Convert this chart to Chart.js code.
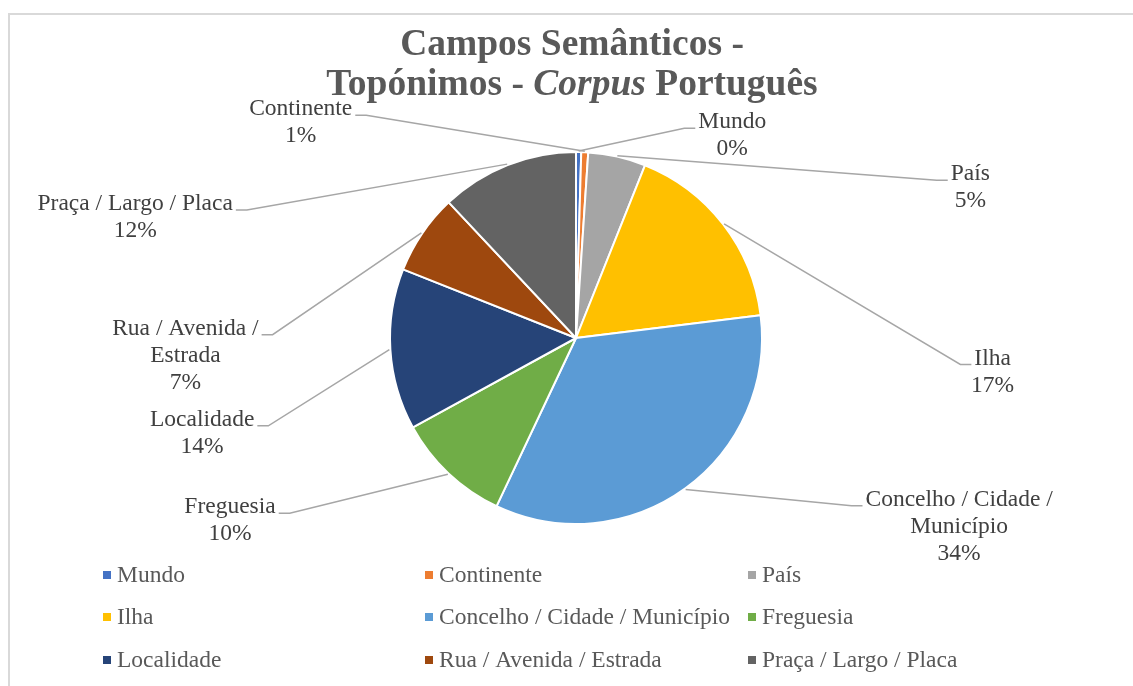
<!DOCTYPE html>
<html>
<head>
<meta charset="utf-8">
<script src="https://cdn.jsdelivr.net/npm/chart.js@4/dist/chart.umd.min.js"></script>
<style>
  html, body { margin: 0; padding: 0; background: #fff; }
  #wrap { position: relative; width: 1133px; height: 686px; }
  #frame { position: absolute; left: 8px; top: 13px; right: -4px; bottom: -4px; border: 2px solid #d9d9d9; }
  canvas { position: absolute; left: 0; top: 0; }
</style>
</head>
<body>
<div id="wrap">
  <div id="frame"></div>
  <canvas id="chart" width="1133" height="686"></canvas>
</div>
<script>
const categorias = ['Mundo', 'Continente', 'País', 'Ilha', 'Concelho / Cidade / Município', 'Freguesia', 'Localidade', 'Rua / Avenida / Estrada', 'Praça / Largo / Placa'];
const percentagens = [0.45, 0.6, 5, 17, 34, 10, 14, 7, 12];
const cores = ['#4472C4', '#ED7D31', '#A5A5A5', '#FFC000', '#5B9BD5', '#70AD47', '#264478', '#9E480E', '#636363'];
// rotulos (linhas de texto de cada etiqueta)
const rotulos = [
    ['Mundo'], ['Continente'], ['País'], ['Ilha'],
    ['Concelho / Cidade /', 'Município'], ['Freguesia'], ['Localidade'],
    ['Rua / Avenida /', 'Estrada'], ['Praça / Largo / Placa']
];

// posição das etiquetas em unidades do raio, relativas ao centro (como no Excel)
const posEtiquetas = [
    [0.84, -1.16], [-1.48, -1.23], [2.12, -0.88], [2.24, 0.11],
    [2.06, 0.87], [-1.86, 0.91], [-2.01, 0.44], [-2.10, -0.05], [-2.37, -0.72]
];

const FONTE = "'Liberation Serif', 'Times New Roman', serif";

const etiquetasPlugin = {
    id: 'etiquetas',
    afterDatasetsDraw(chart) {
        const ctx = chart.ctx;
        const meta = chart.getDatasetMeta(0);
        const arc0 = meta.data[0];
        const cx = arc0.x, cy = arc0.y, r = arc0.outerRadius;
        ctx.save();
        ctx.font = '23.5px ' + FONTE;
        ctx.textAlign = 'center';
        ctx.textBaseline = 'middle';
        meta.data.forEach((arc, i) => {
            const linhas = rotulos[i].concat([Math.round(percentagens[i]) + '%']);
            const lx = cx + posEtiquetas[i][0] * r;
            const ly = cy + posEtiquetas[i][1] * r;
            const lh = 27;
            const larg = Math.max(...rotulos[i].map(t => ctx.measureText(t).width));
            const mid = (arc.startAngle + arc.endAngle) / 2;
            const sx = cx + Math.cos(mid) * (r + 1);
            const sy = cy + Math.sin(mid) * (r + 1);
            const direita = lx > cx;
            const ey = ly + 6;
            const ex = direita ? lx - larg / 2 - 3 : lx + larg / 2 + 3;
            const kx = direita ? ex - 11 : ex + 11;
            ctx.strokeStyle = '#a6a6a6';
            ctx.lineWidth = 1.5;
            ctx.beginPath();
            ctx.moveTo(sx, sy);
            ctx.lineTo(kx, ey);
            ctx.lineTo(ex, ey);
            ctx.stroke();
            ctx.fillStyle = '#404040';
            linhas.forEach((t, j) => ctx.fillText(t, lx, ly + j * lh));
        });
        ctx.restore();
    }
};

const tituloLegendaPlugin = {
    id: 'tituloLegenda',
    afterDraw(chart) {
        const ctx = chart.ctx;
        ctx.save();
        ctx.fillStyle = '#595959';
        ctx.textBaseline = 'alphabetic';
        const tx = 572;
        ctx.font = 'bold 37.5px ' + FONTE;
        ctx.textAlign = 'center';
        ctx.fillText('Campos Semânticos -', tx, 55);
        // segunda linha com "Corpus" em itálico
        const partes = [['Topónimos - ', 'bold 37.5px '], ['Corpus', 'italic bold 37.5px '], [' Português', 'bold 37.5px ']];
        let total = 0;
        partes.forEach(p => { ctx.font = p[1] + FONTE; total += ctx.measureText(p[0]).width; });
        let x = tx - total / 2;
        ctx.textAlign = 'left';
        partes.forEach(p => {
            ctx.font = p[1] + FONTE;
            ctx.fillText(p[0], x, 95);
            x += ctx.measureText(p[0]).width;
        });

        // legenda em grelha de 3 colunas
        const colX = [103, 425, 748];
        const linY = [575, 617, 660];
        ctx.font = '23.5px ' + FONTE;
        ctx.textBaseline = 'middle';
        categorias.forEach((c, i) => {
            const x0 = colX[i % 3], y0 = linY[Math.floor(i / 3)];
            ctx.fillStyle = cores[i];
            ctx.fillRect(x0, y0 - 4, 8, 8);
            ctx.fillStyle = '#595959';
            ctx.fillText(c, x0 + 14, y0 + 1);
        });
        ctx.restore();
    }
};

new Chart(document.getElementById('chart'), {
    type: 'pie',
    data: {
        labels: categorias,
        datasets: [{
            data: percentagens,
            backgroundColor: cores,
            borderColor: '#ffffff',
            borderWidth: 2
        }]
    },
    options: {
        responsive: false,
        animation: false,
        layout: { padding: { top: 151, bottom: 161, left: 19, right: 0 } },
        plugins: {
            legend: { display: false },
            title: { display: false },
            tooltip: { enabled: false }
        }
    },
    plugins: [etiquetasPlugin, tituloLegendaPlugin]
});
</script>
</body>
</html>
